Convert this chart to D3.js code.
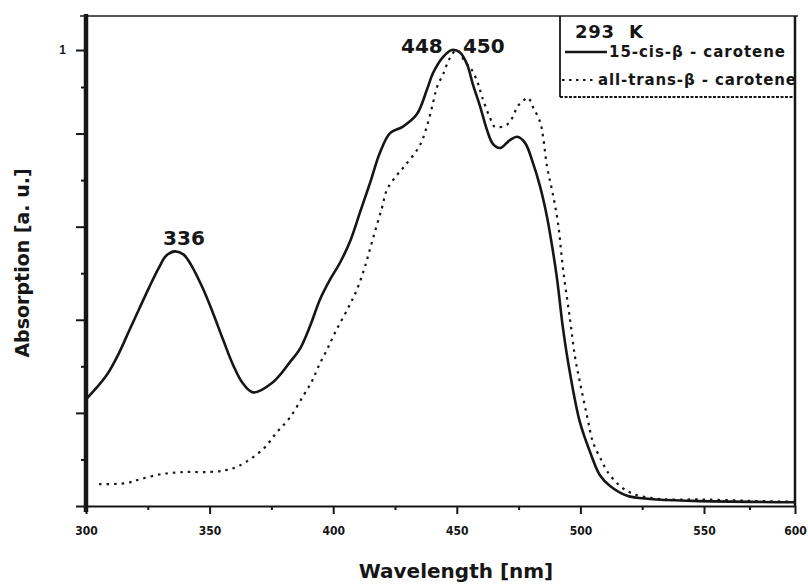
<!DOCTYPE html>
<html>
<head>
<meta charset="utf-8">
<script src="https://cdn.jsdelivr.net/npm/d3@7"></script>
<style>
body { margin: 0; background: #fff; }
svg { display: block; font-family: "DejaVu Sans", sans-serif; }
</style>
</head>
<body>
<svg id="chart" width="808" height="585"></svg>
<script>
// 15-cis-beta-carotene (solid)
var cisNm  = [300, 308.1, 313.3, 317.4, 321.4, 325.5, 329.5, 332.5, 336, 339.5, 342.5, 347.3, 351.4, 355.4, 359.5, 363.5, 367.6,
              375.6, 382.5, 386.6, 390.6, 394.7, 398.7, 402.8, 406.8, 410.8, 414.9, 418.9, 423, 428.2, 433.9, 437.9,
              440.4, 444.4, 448, 451.3, 454.1, 456.6, 459.5, 462.2, 464.6, 467.5, 471.5, 474.4, 477.6, 480.8, 483.7,
              486.5, 488.5, 490.5, 493, 495.8, 499.8, 503.9, 507.9, 512, 518.9, 528.2, 545.6, 600];
var cisAbs = [0.229, 0.279, 0.328, 0.376, 0.422, 0.469, 0.512, 0.538, 0.547, 0.540, 0.518, 0.467, 0.414, 0.358, 0.303, 0.263, 0.244,
              0.266, 0.309, 0.338, 0.386, 0.444, 0.486, 0.523, 0.568, 0.630, 0.694, 0.759, 0.801, 0.815, 0.842, 0.894,
              0.938, 0.981, 1.0, 0.993, 0.962, 0.905, 0.857, 0.808, 0.778, 0.769, 0.786, 0.793, 0.780, 0.737, 0.686,
              0.621, 0.560, 0.490, 0.380, 0.285, 0.180, 0.116, 0.066, 0.043, 0.022, 0.015, 0.011, 0.008];

// all-trans-beta-carotene (dotted)
var transNm  = [305.3, 316.2, 322.2, 331.1, 340.5, 349.8, 356.6, 361.9, 371.6, 377.3, 382.5, 387.8, 391.4, 393.9, 397.5,
                401, 406, 409.6, 412.9, 416.1, 419.7, 421.8, 425.8, 429, 435.1, 438.3, 440.4, 442,
                444.4, 447.2, 450, 453.3, 456.1, 458.6, 460.2, 463.4, 465.5, 470.3, 472.7, 474.4, 476.4, 478.8, 480.8,
                483.7, 484.9, 486.5, 488.5, 490.9, 493, 495.8, 497.8, 499.8, 502.7, 505.1, 508.7, 510.8, 515.2, 521.3,
                532.2, 548.4, 575.8, 600];
var transAbs = [0.047, 0.049, 0.058, 0.069, 0.073, 0.073, 0.077, 0.086, 0.122, 0.159, 0.190, 0.236, 0.268, 0.298, 0.336,
                0.375, 0.425, 0.465, 0.515, 0.575, 0.640, 0.680, 0.711, 0.731, 0.775, 0.823, 0.866, 0.900,
                0.934, 0.978, 1.0, 0.968, 0.946, 0.909, 0.879, 0.834, 0.814, 0.819, 0.836, 0.857, 0.868, 0.877, 0.857,
                0.825, 0.793, 0.729, 0.679, 0.609, 0.508, 0.401, 0.321, 0.266, 0.193, 0.137, 0.096, 0.075, 0.047, 0.026,
                0.015, 0.014, 0.011, 0.009];

var xTicks = [300, 325, 350, 375, 400, 425, 450, 475, 500, 525, 550, 575, 600];
var xLabels = ["300", "350", "400", "450", "500", "550", "600"];
var yTicks = [0, 0.1, 0.2, 0.3, 0.4, 0.5, 0.6, 0.7, 0.8, 0.9, 1];
var yLabels = ["1"];
var peakNm = [336, 448, 450];
var peakText = ["336", "448", "450"];
var legendTitle = "293  K";
var legendNames = ["15-cis-\u03b2 - carotene", "all-trans-\u03b2 - carotene"];
var xTitle = "Wavelength [nm]";
var yTitle = "Absorption [a. u.]";

var svg = d3.select("#chart");
var ink = "#161616";

// the scanned axes are not quite even, so the scales are piecewise
var x = d3.scaleLinear().domain([300, 550, 600]).range([86, 704, 795]);
var y = d3.scaleLinear().domain([0, 0.9, 1]).range([506, 87, 50]);

// frame
svg.append("line").attr("x1", 80).attr("x2", 798).attr("y1", 16).attr("y2", 16)
	.attr("stroke", "#555").attr("stroke-width", 2);
svg.append("line").attr("x1", 795).attr("x2", 795).attr("y1", 16).attr("y2", 507)
	.attr("stroke", ink).attr("stroke-width", 2.5);

// x axis
var xAxis = svg.append("g").attr("transform", "translate(0,506)")
	.call(d3.axisBottom(x).tickValues(xTicks).tickSizeOuter(0)
		.tickFormat(function(d) { return d % 50 === 0 ? xLabels[(d - 300) / 50] : ""; }));
xAxis.select(".domain").attr("stroke", ink).attr("stroke-width", 2);
xAxis.selectAll(".tick line").attr("stroke", ink).attr("stroke-width", 2)
	.attr("y2", function(d) { return d % 50 === 0 ? 8 : 4; });
xAxis.selectAll(".tick text").attr("y", 29).attr("dy", 0)
	.attr("font-size", 12).attr("font-weight", "bold").attr("fill", ink)
	.attr("font-family", "DejaVu Sans Condensed, DejaVu Sans, sans-serif");

// y axis
var yAxis = svg.append("g").attr("transform", "translate(86,0)")
	.call(d3.axisLeft(y).tickValues(yTicks).tickSizeOuter(0)
		.tickFormat(function(d) { return d === 1 ? yLabels[0] : ""; }));
yAxis.select(".domain").attr("stroke", ink).attr("stroke-width", 4.5)
	.attr("d", "M0,14V512");
yAxis.selectAll(".tick line").attr("stroke", ink).attr("stroke-width", 2)
	.attr("x2", function(d, i) { return i % 2 === 0 ? -10 : -5; });
yAxis.selectAll(".tick text").attr("x", -20).attr("font-size", 12)
	.attr("font-weight", "bold").attr("fill", ink);

// curves
var cisData = cisNm.map(function(d, i) { return [d, cisAbs[i]]; });
var transData = transNm.map(function(d, i) { return [d, transAbs[i]]; });
var line = d3.line()
	.x(function(d) { return x(d[0]); })
	.y(function(d) { return y(d[1]); })
	.curve(d3.curveCatmullRom.alpha(0.5));

svg.append("path").datum(transData).attr("d", line)
	.attr("fill", "none").attr("stroke", ink).attr("stroke-width", 2.2)
	.attr("stroke-dasharray", "2.5,5");
svg.append("path").datum(cisData).attr("d", line)
	.attr("fill", "none").attr("stroke", ink).attr("stroke-width", 2.6);

// peak labels
var peakDx = [9, -30, 27];
svg.selectAll(".peak").data(peakText).enter().append("text")
	.attr("class", "peak")
	.attr("x", function(d, i) { return x(peakNm[i]) + peakDx[i]; })
	.attr("y", function(d, i) { return i === 0 ? y(cisAbs[cisNm.indexOf(336)]) - 6 : 53; })
	.attr("text-anchor", "middle")
	.attr("font-size", 20).attr("font-weight", "bold").attr("fill", ink)
	.text(function(d) { return d; });

// legend
var lg = svg.append("g");
lg.append("line").attr("x1", 560).attr("x2", 560).attr("y1", 16).attr("y2", 97)
	.attr("stroke", ink).attr("stroke-width", 1.8);
lg.append("line").attr("x1", 560).attr("x2", 795).attr("y1", 97).attr("y2", 97)
	.attr("stroke", ink).attr("stroke-width", 2.2).attr("stroke-dasharray", "3,1.5");
lg.append("text").attr("x", 575).attr("y", 38).attr("font-size", 18).attr("font-weight", "bold")
	.attr("fill", ink).attr("xml:space", "preserve").attr("textLength", 68).text(legendTitle);
lg.append("line").attr("x1", 565).attr("x2", 607).attr("y1", 52).attr("y2", 52)
	.attr("stroke", ink).attr("stroke-width", 2.6);
lg.append("line").attr("x1", 562).attr("x2", 595).attr("y1", 80).attr("y2", 80)
	.attr("stroke", ink).attr("stroke-width", 2).attr("stroke-dasharray", "2.5,4.5");
lg.append("text").attr("x", 609).attr("y", 57).attr("font-size", 15)
	.attr("fill", ink).attr("font-weight", "bold").attr("textLength", 176).text(legendNames[0]);
lg.append("text").attr("x", 598).attr("y", 85).attr("font-size", 15)
	.attr("fill", ink).attr("font-weight", "bold").attr("textLength", 198).text(legendNames[1]);

// axis titles
svg.append("text").attr("x", 456).attr("y", 578).attr("text-anchor", "middle")
	.attr("font-size", 20).attr("font-weight", "bold").attr("fill", ink).text(xTitle);
svg.append("text").attr("transform", "translate(29,263) rotate(-90)").attr("text-anchor", "middle")
	.attr("font-size", 19).attr("font-weight", "bold").attr("fill", ink).text(yTitle);
</script>
</body>
</html>
